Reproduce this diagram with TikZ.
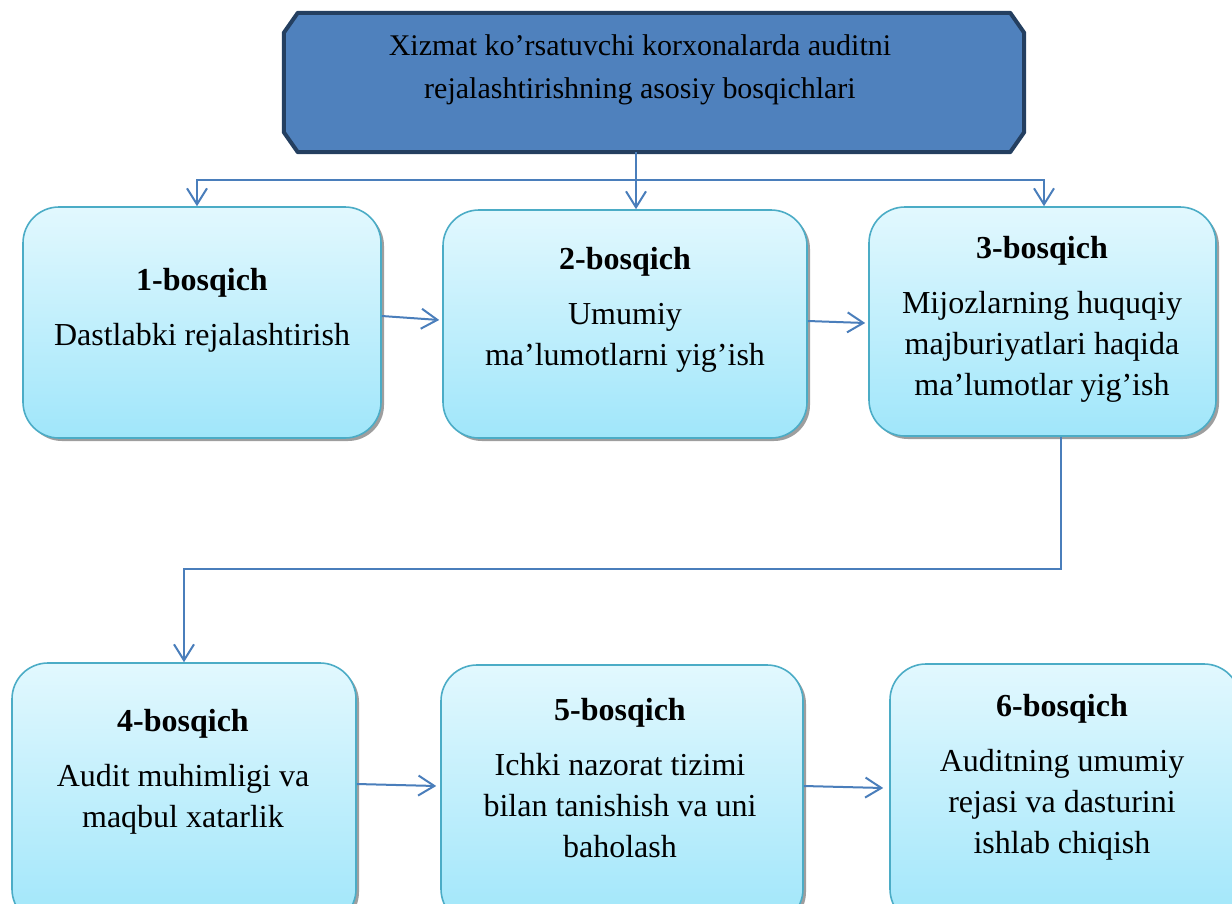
\documentclass[tikz,border=0pt]{standalone}
\usepackage{fontspec}
\setmainfont{Liberation Serif}
\usetikzlibrary{arrows.meta,shadows,calc}
\definecolor{lineblue}{RGB}{74,126,187}
\definecolor{boxedge}{RGB}{75,172,198}
\definecolor{boxtop}{RGB}{226,248,254}
\definecolor{boxbot}{RGB}{160,230,250}
\definecolor{topfill}{RGB}{79,129,189}
\definecolor{topedge}{RGB}{36,63,96}
\begin{document}
\begin{tikzpicture}[x=1pt,y=-1pt,
 stage/.style={rectangle, rounded corners=36pt, draw=boxedge, line width=1.6pt,
   top color=boxtop, bottom color=boxbot,
   drop shadow={shadow xshift=3pt, shadow yshift=-3pt, fill=black!38, opacity=1},
   inner sep=0pt},
 txt/.style={align=center, font=\fontsize{32}{41}\selectfont, inner sep=0pt},
 arr/.style={draw=lineblue, line width=2pt, -{Straight Barb[length=16pt,width=20pt]}}]
\useasboundingbox (0,0) rectangle (1232,903);
\clip (0,0) rectangle (1232,903);

% top box
\node[minimum width=740pt, minimum height=139pt, inner sep=0pt] (top) at (654,82.5) {};
\draw[fill=topfill, draw=topedge, line width=4pt, line join=round]
 ($(top.north west)+(14,0)$) -- ($(top.north east)+(-14,0)$) --
 ($(top.north east)+(0,20)$) -- ($(top.south east)+(0,-20)$) --
 ($(top.south east)+(-14,0)$) -- ($(top.south west)+(14,0)$) --
 ($(top.south west)+(0,-20)$) -- ($(top.north west)+(0,20)$) -- cycle;
\node[txt, font=\fontsize{30}{43}\selectfont] (ttl) at (640,70)
 {Xizmat ko’rsatuvchi korxonalarda auditni\\rejalashtirishning asosiy bosqichlari};

% stage boxes
\node[stage, minimum width=358pt, minimum height=231pt] (b1) at (202,322.5) {};
\node[stage, minimum width=364pt, minimum height=228pt] (b2) at (625,324) {};
\node[stage, minimum width=347pt, minimum height=229pt] (b3) at (1042.5,321.5) {};
\node[stage, minimum width=344pt, minimum height=262pt] (b4) at (184,794) {};
\node[stage, minimum width=362pt, minimum height=260pt] (b5) at (622,795) {};
\node[stage, minimum width=350pt, minimum height=261pt] (b6) at (1065,794.5) {};

\node[txt] (t1) at (202,310.5) {\textbf{1-bosqich}\\[14pt]Dastlabki rejalashtirish};
\node[txt] (t2) at (625,310) {\textbf{2-bosqich}\\[14pt]Umumiy\\ma’lumotlarni yig’ish};
\node[txt] (t3) at (1042,319) {\textbf{3-bosqich}\\[14pt]Mijozlarning huquqiy\\majburiyatlari haqida\\ma’lumotlar yig’ish};
\node[txt] (t4) at (183,771.5) {\textbf{4-bosqich}\\[14pt]Audit muhimligi va\\maqbul xatarlik};
\node[txt] (t5) at (620,778) {\textbf{5-bosqich}\\[14pt]Ichki nazorat tizimi\\bilan tanishish va uni\\baholash};
\node[txt] (t6) at (1062,777) {\textbf{6-bosqich}\\[14pt]Auditning umumiy\\rejasi va dasturini\\ishlab chiqish};

% connectors from top
\coordinate (ta) at ($(top.south)+(-18,0)$);
\coordinate (tj) at ($(top.south)+(-18,28)$);
\draw[arr] (ta) -- (ta |- b2.north);
\draw[arr] (tj) -| ($(b1.north)+(-5,0)$);
\draw[arr] (tj) -| ($(b3.north)+(1.5,0)$);

% horizontal arrows
\draw[arr] ($(b1.east)+(0,-6.5)$) -- ($(b2.west)+(-3,-4)$);
\draw[arr] ($(b2.east)+(0,-3)$) -- ($(b3.west)+(-3,1.5)$);
\draw[arr] ($(b4.east)+(0,-10)$) -- ($(b5.west)+(-4,-9)$);
\draw[arr] ($(b5.east)+(0,-9)$) -- ($(b6.west)+(-6,-6.5)$);

% from stage 3 to stage 4
\draw[arr] ($(b3.south)+(18.5,0)$) -- ++(0,132) -| (b4.north);
\end{tikzpicture}
\end{document}
